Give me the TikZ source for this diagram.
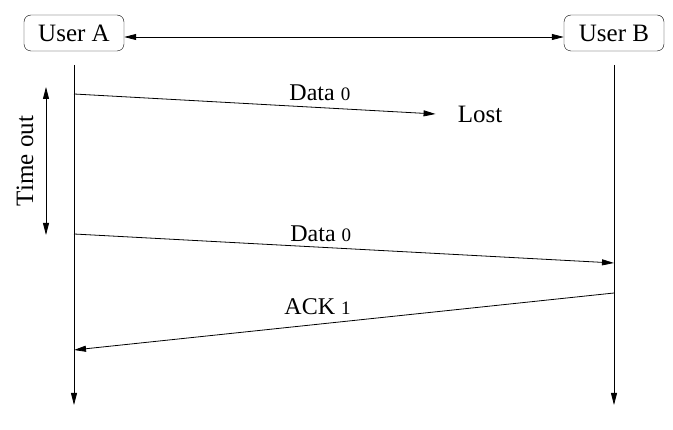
\documentclass[tikz,border=0pt]{standalone}
\usepackage{fontspec}
\setmainfont{Liberation Serif}
\usepackage{tikz}
\usetikzlibrary{positioning,arrows.meta}
\tikzset{
    user/.style={
        rectangle,
        rounded corners=7pt,
        draw=black,
        text centered,
        minimum width=100pt,
        minimum height=36pt,
        font=\fontsize{25}{30}\selectfont
    },
    arrow/.style={
        ->,
        >={Triangle[length=12pt,width=6pt]},
        line width=0.8pt
    }
}
\tikzstyle{msgtext} = [font=\fontsize{24}{28}\selectfont, inner sep=0pt, anchor=base]
\newcommand{\seqno}[1]{{\fontsize{19}{22}\selectfont #1}}

\begin{document}
\begin{tikzpicture}[x=1pt,y=-1pt]
          \useasboundingbox (0,0) rectangle (673,430);
          \node (userA) [user] at (74,33) {User A};
          \node (userB) [user] at (614,33) {User B};
          \node (lost) [font=\fontsize{25}{30}\selectfont, inner sep=2pt] at (480,114) {Lost};
          \node (timeout) [rotate=90, anchor=base, font=\fontsize{25}{30}\selectfont, inner sep=0pt] at (33,161) {Time out};
          \coordinate (aTop) at (74,65);
          \coordinate (aBot) at (74,405);
          \coordinate (bTop) at (614,65);
          \coordinate (bBot) at (614,405);
          \coordinate (t1) at (46,87);
          \coordinate (t2) at (46,235);
          \coordinate (a1) at (74,94);
          \coordinate (a2) at (74,234);
          \coordinate (b2) at (614,263);
          \coordinate (b3) at (614,293);
          \coordinate (a3) at (74,350);
          \draw [arrow, <->] ([yshift=-4pt]userA.east) -- ([yshift=-4pt]userB.west);
          \draw [arrow] (aTop) -- (aBot);
          \draw [arrow] (bTop) -- (bBot);
          \draw [arrow, <->] (t1) -- (t2);
          \draw [arrow] (a1) -- node[msgtext, pos=0.68, yshift=6.6pt] {Data \seqno{0}} ([xshift=-20pt]lost.west);
          \draw [arrow] (a2) -- node[msgtext, pos=0.457, yshift=5.3pt] {Data \seqno{0}} (b2);
          \draw [arrow] (b3) -- node[msgtext, pos=0.549, yshift=9.3pt] {ACK \seqno{1}} (a3);
        \end{tikzpicture}
\end{document}
